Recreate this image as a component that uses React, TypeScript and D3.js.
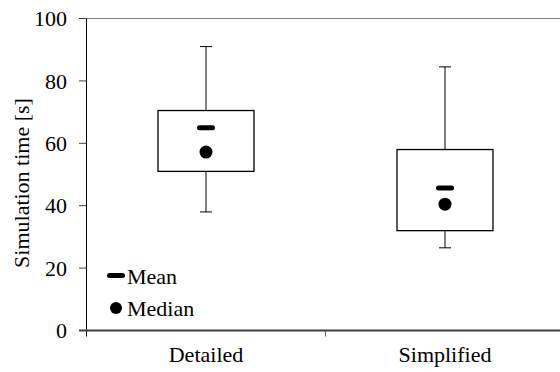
import React from 'react';
import * as d3 from 'd3';

// box plot stats
const categories = ['Detailed', 'Simplified'];
const whiskerHigh = [91, 84.5];
const q3 = [70.5, 58];
const q1 = [51, 32];
const whiskerLow = [38, 26.5];
const means = [65, 45.7];
const medians = [57.2, 40.5];
const yTicks = [0, 20, 40, 60, 80, 100];

const W = 560;
const H = 372;
const txt = {
  fontFamily: "'Times New Roman', Times, Tinos, 'Liberation Serif', 'DejaVu Serif', 'Noto Serif', serif",
  fontSize: 22,
};

export default function App() {
  const x = d3.scaleBand().domain(categories).range([86.5, 564.5]);
  const y = d3.scaleLinear().domain([0, 100]).range([330.5, 18.5]);
  const boxW = 96;
  const capW = 12;

  return (
    <svg width={W} height={H} style={{ position: 'absolute', left: 0, top: 0, background: '#fff' }}>
      {/* top frame line */}
      <line x1={79} x2={W} y1={y(100)} y2={y(100)} stroke="#808080" strokeWidth={1.2} />
      {/* y axis */}
      <line x1={86.5} x2={86.5} y1={y(100)} y2={y(0)} stroke="#000" strokeWidth={1} />
      {yTicks.map((t) => (
        <g key={t}>
          <line x1={79} x2={86.5} y1={y(t)} y2={y(t)} stroke="#404040" strokeWidth={1} />
          <text x={67} y={y(t)} dy="0.35em" textAnchor="end" style={txt} fill="#000">
            {t}
          </text>
        </g>
      ))}
      {/* category separators */}
      {categories.slice(1).map((c) => (
        <line key={c} x1={x(c)} x2={x(c)} y1={y(0)} y2={y(0) + 6} stroke="#606060" strokeWidth={1} />
      ))}
      <line x1={86.5} x2={86.5} y1={y(0)} y2={y(0) + 6} stroke="#000" strokeWidth={1} />

      {categories.map((c, i) => {
        const cx = x(c) + x.bandwidth() / 2;
        return (
          <g key={c}>
            <line x1={cx} x2={cx} y1={y(whiskerHigh[i])} y2={y(q3[i])} stroke="#000" strokeWidth={1} />
            <line x1={cx} x2={cx} y1={y(q1[i])} y2={y(whiskerLow[i])} stroke="#000" strokeWidth={1} />
            <line x1={cx - capW / 2} x2={cx + capW / 2} y1={y(whiskerHigh[i])} y2={y(whiskerHigh[i])} stroke="#000" strokeWidth={1} />
            <line x1={cx - capW / 2} x2={cx + capW / 2} y1={y(whiskerLow[i])} y2={y(whiskerLow[i])} stroke="#000" strokeWidth={1} />
            <rect x={cx - boxW / 2} y={y(q3[i])} width={boxW} height={y(q1[i]) - y(q3[i])} fill="#fff" stroke="#000" strokeWidth={1.3} />
            <rect x={cx - 9} y={y(means[i]) - 2.5} width={18} height={5} rx={2.5} fill="#000" />
            <circle cx={cx} cy={y(medians[i])} r={6.5} fill="#000" />
            <text x={cx} y={362} textAnchor="middle" style={txt} fill="#000">
              {c}
            </text>
          </g>
        );
      })}

      {/* x axis */}
      <line x1={79} x2={W} y1={y(0)} y2={y(0)} stroke="#404040" strokeWidth={2} />

      {/* legend */}
      <rect x={107} y={273} width={18} height={5} rx={2.5} fill="#000" />
      <text x={127} y={284} style={txt} fill="#000">Mean</text>
      <circle cx={116} cy={308} r={6} fill="#000" />
      <text x={127} y={316} style={txt} fill="#000">Median</text>

      <text
        transform={`translate(29, 183) rotate(-90)`}
        textAnchor="middle"
        style={txt}
        fill="#000"
      >
        Simulation time [s]
      </text>
    </svg>
  );
}
